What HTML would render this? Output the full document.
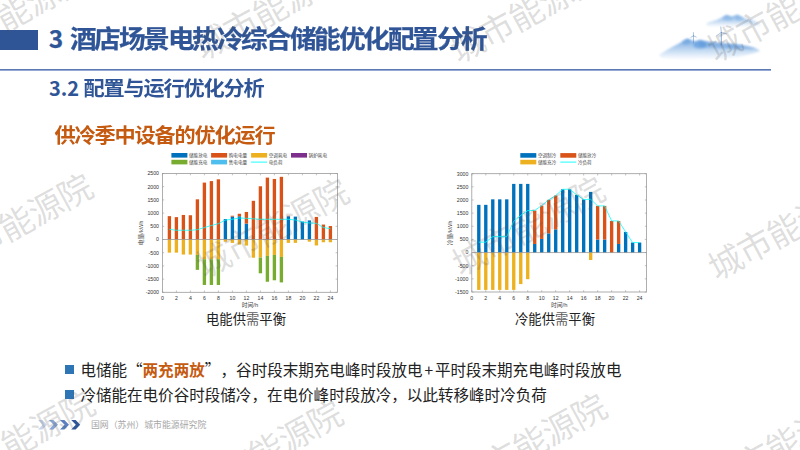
<!DOCTYPE html>
<html><head><meta charset="utf-8">
<style>
*{margin:0;padding:0;box-sizing:border-box}
html,body{width:800px;height:450px;overflow:hidden;background:#fff}
body{position:relative;font-family:"Liberation Sans","Noto Sans CJK SC",sans-serif}
.abs{position:absolute;white-space:nowrap}
#bar{left:0;top:30px;width:38px;height:20px;background:#2f5597}
#title{left:48.8px;top:20.8px;-webkit-text-stroke:0.25px #2f5597;font-size:24.44px;line-height:34px;font-weight:bold;color:#2f5597;font-family:"Noto Sans CJK SC",sans-serif}
#hline{left:0;top:69px;width:771px;height:2px;background:linear-gradient(#5c7ab2 0 50%,#93a9d3 50% 100%)}
#sub{left:49px;top:74px;font-size:20px;line-height:28px;font-weight:bold;color:#2f5597;font-family:"Noto Sans CJK SC",sans-serif}
#head{left:55px;top:120.5px;font-size:20px;line-height:28px;font-weight:bold;color:#c55a11;font-family:"Noto Sans CJK SC",sans-serif}
.bl{left:80.4px;font-size:15.56px;line-height:22px;color:#222;font-family:"Noto Sans CJK SC",sans-serif}
.bl b{color:#c55a11}
.fw{letter-spacing:8px}
.pl{letter-spacing:1.8px;padding-left:1.8px}
#title i,#sub i,#head i{font-style:normal;display:inline-block;transform:scaleX(1.09)}
#sub i,#head i{transform:scaleX(1.06)}
.sq{width:9px;height:9px;background:#2e75b6}
#foot{left:91px;top:418px;font-size:8.89px;line-height:14px;color:#a6a6a6;font-family:"Noto Sans CJK SC",sans-serif}
.ct{font-size:13.33px;line-height:18px;color:#222;font-family:"Noto Sans CJK SC",sans-serif}
svg text{font-family:"Liberation Sans","Noto Sans CJK SC",sans-serif}
.tk{font-size:5.2px;fill:#333}
.al{font-size:5.8px;fill:#444}
.lg{font-size:4.6px;fill:#444}
.wm{position:absolute;white-space:nowrap;font-family:"Noto Sans CJK SC",sans-serif;font-weight:400;font-size:34px;line-height:34px;letter-spacing:-0.6px;color:rgba(80,80,80,0.19);transform-origin:0 50%;transform:rotate(-28.5deg)}
</style></head><body>
<div class="abs" id="bar"></div>
<div class="abs" id="title">3<span style="letter-spacing:2.2px"> </span><i>酒</i><i>店</i><i>场</i><i>景</i><i>电</i><i>热</i><i>冷</i><i>综</i><i>合</i><i>储</i><i>能</i><i>优</i><i>化</i><i>配</i><i>置</i><i>分</i><i>析</i></div>
<div class="abs" id="hline"></div>
<div class="abs" id="sub">3.2 <i>配</i><i>置</i><i>与</i><i>运</i><i>行</i><i>优</i><i>化</i><i>分</i><i>析</i></div>
<div class="abs" id="head"><i>供</i><i>冷</i><i>季</i><i>中</i><i>设</i><i>备</i><i>的</i><i>优</i><i>化</i><i>运</i><i>行</i></div>
<svg class="abs" style="left:0;top:0" width="800" height="450" viewBox="0 0 800 450">
<rect x="167.72" y="216.14" width="3.35" height="23.36" fill="#D95319"/>
<rect x="167.72" y="239.5" width="3.35" height="13.15" fill="#EDB120"/>
<rect x="174.72" y="217.11" width="3.35" height="22.39" fill="#D95319"/>
<rect x="174.72" y="239.5" width="3.35" height="13.15" fill="#EDB120"/>
<rect x="181.72" y="214.95" width="3.35" height="24.55" fill="#D95319"/>
<rect x="181.72" y="239.5" width="3.35" height="15.05" fill="#EDB120"/>
<rect x="188.72" y="215.24" width="3.35" height="24.26" fill="#D95319"/>
<rect x="188.72" y="239.5" width="3.35" height="15.05" fill="#EDB120"/>
<rect x="195.72" y="199.32" width="3.35" height="40.18" fill="#D95319"/>
<rect x="195.72" y="239.5" width="3.35" height="15.44" fill="#EDB120"/>
<rect x="195.72" y="254.94" width="3.35" height="14.92" fill="#77AC30"/>
<rect x="202.72" y="182.61" width="3.35" height="56.89" fill="#D95319"/>
<rect x="202.72" y="239.5" width="3.35" height="19.72" fill="#EDB120"/>
<rect x="202.72" y="259.22" width="3.35" height="25.74" fill="#77AC30"/>
<rect x="209.72" y="181.1" width="3.35" height="58.4" fill="#D95319"/>
<rect x="209.72" y="239.5" width="3.35" height="19.72" fill="#EDB120"/>
<rect x="209.72" y="259.22" width="3.35" height="25.74" fill="#77AC30"/>
<rect x="216.72" y="179.31" width="3.35" height="60.19" fill="#D95319"/>
<rect x="216.72" y="239.5" width="3.35" height="19.72" fill="#EDB120"/>
<rect x="216.72" y="259.22" width="3.35" height="25.74" fill="#77AC30"/>
<rect x="223.72" y="219.12" width="3.35" height="20.38" fill="#0072BD"/>
<rect x="223.72" y="239.5" width="3.35" height="2.19" fill="#EDB120"/>
<rect x="230.72" y="216.61" width="3.35" height="22.89" fill="#0072BD"/>
<rect x="230.72" y="215.74" width="3.35" height="0.87" fill="#D95319"/>
<rect x="230.72" y="239.5" width="3.35" height="3.43" fill="#EDB120"/>
<rect x="237.72" y="216.27" width="3.35" height="23.23" fill="#0072BD"/>
<rect x="237.72" y="213.76" width="3.35" height="2.51" fill="#D95319"/>
<rect x="237.72" y="239.5" width="3.35" height="5.02" fill="#EDB120"/>
<rect x="244.72" y="223.58" width="3.35" height="15.92" fill="#0072BD"/>
<rect x="244.72" y="211.94" width="3.35" height="11.64" fill="#D95319"/>
<rect x="244.72" y="239.5" width="3.35" height="6.07" fill="#EDB120"/>
<rect x="251.72" y="200.8" width="3.35" height="38.7" fill="#D95319"/>
<rect x="251.72" y="239.5" width="3.35" height="18.22" fill="#EDB120"/>
<rect x="258.72" y="186.28" width="3.35" height="53.22" fill="#D95319"/>
<rect x="258.72" y="239.5" width="3.35" height="18.08" fill="#EDB120"/>
<rect x="258.72" y="257.58" width="3.35" height="15.71" fill="#77AC30"/>
<rect x="265.72" y="177.62" width="3.35" height="61.88" fill="#D95319"/>
<rect x="265.72" y="239.5" width="3.35" height="16.37" fill="#EDB120"/>
<rect x="265.72" y="255.87" width="3.35" height="25.87" fill="#77AC30"/>
<rect x="272.72" y="178.94" width="3.35" height="60.56" fill="#D95319"/>
<rect x="272.72" y="239.5" width="3.35" height="15.44" fill="#EDB120"/>
<rect x="272.72" y="254.94" width="3.35" height="25.34" fill="#77AC30"/>
<rect x="279.72" y="176.83" width="3.35" height="62.67" fill="#D95319"/>
<rect x="279.72" y="239.5" width="3.35" height="17.42" fill="#EDB120"/>
<rect x="279.72" y="256.92" width="3.35" height="25.48" fill="#77AC30"/>
<rect x="286.72" y="216.27" width="3.35" height="23.23" fill="#0072BD"/>
<rect x="286.72" y="215.74" width="3.35" height="0.53" fill="#D95319"/>
<rect x="286.72" y="239.5" width="3.35" height="3.38" fill="#EDB120"/>
<rect x="293.72" y="216.61" width="3.35" height="22.89" fill="#0072BD"/>
<rect x="293.72" y="239.5" width="3.35" height="3.38" fill="#EDB120"/>
<rect x="300.72" y="221.55" width="3.35" height="17.95" fill="#0072BD"/>
<rect x="307.72" y="220.39" width="3.35" height="19.11" fill="#0072BD"/>
<rect x="307.72" y="239.5" width="3.35" height="2.19" fill="#EDB120"/>
<rect x="314.72" y="216.93" width="3.35" height="22.57" fill="#D95319"/>
<rect x="314.72" y="239.5" width="3.35" height="5.97" fill="#EDB120"/>
<rect x="321.72" y="224.56" width="3.35" height="14.94" fill="#D95319"/>
<rect x="321.72" y="239.5" width="3.35" height="2.77" fill="#EDB120"/>
<rect x="328.72" y="226.04" width="3.35" height="13.46" fill="#D95319"/>
<rect x="328.72" y="239.5" width="3.35" height="2.77" fill="#EDB120"/>
<line x1="162.4" x2="337.4" y1="239.5" y2="239.5" stroke="#8a8a8a" stroke-width="0.7"/>
<polyline points="169.4,229.36 176.4,230.26 183.4,230.26 190.4,230.26 197.4,229.71 204.4,227.51 211.4,225.51 218.4,223.66 225.4,220.1 232.4,219.22 239.4,218.01 246.4,218.33 253.4,218.83 260.4,219.3 267.4,219.3 274.4,219.3 281.4,219.3 288.4,219.3 295.4,220.02 302.4,222.02 309.4,223.03 316.4,223.32 323.4,227.51 330.4,228.7" fill="none" stroke="#00FFFF" stroke-width="0.9" stroke-opacity="0.85"/>
<rect x="162.4" y="173.5" width="175" height="118.8" fill="none" stroke="#9a9a9a" stroke-width="0.8"/>
<line x1="162.4" x2="162.4" y1="292.3" y2="290.5" stroke="#9a9a9a" stroke-width="0.6"/>
<line x1="162.4" x2="162.4" y1="173.5" y2="175.3" stroke="#9a9a9a" stroke-width="0.6"/>
<text x="162.4" y="300.1" text-anchor="middle" class="tk">0</text>
<line x1="176.4" x2="176.4" y1="292.3" y2="290.5" stroke="#9a9a9a" stroke-width="0.6"/>
<line x1="176.4" x2="176.4" y1="173.5" y2="175.3" stroke="#9a9a9a" stroke-width="0.6"/>
<text x="176.4" y="300.1" text-anchor="middle" class="tk">2</text>
<line x1="190.4" x2="190.4" y1="292.3" y2="290.5" stroke="#9a9a9a" stroke-width="0.6"/>
<line x1="190.4" x2="190.4" y1="173.5" y2="175.3" stroke="#9a9a9a" stroke-width="0.6"/>
<text x="190.4" y="300.1" text-anchor="middle" class="tk">4</text>
<line x1="204.4" x2="204.4" y1="292.3" y2="290.5" stroke="#9a9a9a" stroke-width="0.6"/>
<line x1="204.4" x2="204.4" y1="173.5" y2="175.3" stroke="#9a9a9a" stroke-width="0.6"/>
<text x="204.4" y="300.1" text-anchor="middle" class="tk">6</text>
<line x1="218.4" x2="218.4" y1="292.3" y2="290.5" stroke="#9a9a9a" stroke-width="0.6"/>
<line x1="218.4" x2="218.4" y1="173.5" y2="175.3" stroke="#9a9a9a" stroke-width="0.6"/>
<text x="218.4" y="300.1" text-anchor="middle" class="tk">8</text>
<line x1="232.4" x2="232.4" y1="292.3" y2="290.5" stroke="#9a9a9a" stroke-width="0.6"/>
<line x1="232.4" x2="232.4" y1="173.5" y2="175.3" stroke="#9a9a9a" stroke-width="0.6"/>
<text x="232.4" y="300.1" text-anchor="middle" class="tk">10</text>
<line x1="246.4" x2="246.4" y1="292.3" y2="290.5" stroke="#9a9a9a" stroke-width="0.6"/>
<line x1="246.4" x2="246.4" y1="173.5" y2="175.3" stroke="#9a9a9a" stroke-width="0.6"/>
<text x="246.4" y="300.1" text-anchor="middle" class="tk">12</text>
<line x1="260.4" x2="260.4" y1="292.3" y2="290.5" stroke="#9a9a9a" stroke-width="0.6"/>
<line x1="260.4" x2="260.4" y1="173.5" y2="175.3" stroke="#9a9a9a" stroke-width="0.6"/>
<text x="260.4" y="300.1" text-anchor="middle" class="tk">14</text>
<line x1="274.4" x2="274.4" y1="292.3" y2="290.5" stroke="#9a9a9a" stroke-width="0.6"/>
<line x1="274.4" x2="274.4" y1="173.5" y2="175.3" stroke="#9a9a9a" stroke-width="0.6"/>
<text x="274.4" y="300.1" text-anchor="middle" class="tk">16</text>
<line x1="288.4" x2="288.4" y1="292.3" y2="290.5" stroke="#9a9a9a" stroke-width="0.6"/>
<line x1="288.4" x2="288.4" y1="173.5" y2="175.3" stroke="#9a9a9a" stroke-width="0.6"/>
<text x="288.4" y="300.1" text-anchor="middle" class="tk">18</text>
<line x1="302.4" x2="302.4" y1="292.3" y2="290.5" stroke="#9a9a9a" stroke-width="0.6"/>
<line x1="302.4" x2="302.4" y1="173.5" y2="175.3" stroke="#9a9a9a" stroke-width="0.6"/>
<text x="302.4" y="300.1" text-anchor="middle" class="tk">20</text>
<line x1="316.4" x2="316.4" y1="292.3" y2="290.5" stroke="#9a9a9a" stroke-width="0.6"/>
<line x1="316.4" x2="316.4" y1="173.5" y2="175.3" stroke="#9a9a9a" stroke-width="0.6"/>
<text x="316.4" y="300.1" text-anchor="middle" class="tk">22</text>
<line x1="330.4" x2="330.4" y1="292.3" y2="290.5" stroke="#9a9a9a" stroke-width="0.6"/>
<line x1="330.4" x2="330.4" y1="173.5" y2="175.3" stroke="#9a9a9a" stroke-width="0.6"/>
<text x="330.4" y="300.1" text-anchor="middle" class="tk">24</text>
<line x1="162.4" x2="164.2" y1="292.3" y2="292.3" stroke="#9a9a9a" stroke-width="0.6"/>
<line x1="337.4" x2="335.6" y1="292.3" y2="292.3" stroke="#9a9a9a" stroke-width="0.6"/>
<text x="159" y="294.1" text-anchor="end" class="tk">-2000</text>
<line x1="162.4" x2="164.2" y1="279.1" y2="279.1" stroke="#9a9a9a" stroke-width="0.6"/>
<line x1="337.4" x2="335.6" y1="279.1" y2="279.1" stroke="#9a9a9a" stroke-width="0.6"/>
<text x="159" y="280.9" text-anchor="end" class="tk">-1500</text>
<line x1="162.4" x2="164.2" y1="265.9" y2="265.9" stroke="#9a9a9a" stroke-width="0.6"/>
<line x1="337.4" x2="335.6" y1="265.9" y2="265.9" stroke="#9a9a9a" stroke-width="0.6"/>
<text x="159" y="267.7" text-anchor="end" class="tk">-1000</text>
<line x1="162.4" x2="164.2" y1="252.7" y2="252.7" stroke="#9a9a9a" stroke-width="0.6"/>
<line x1="337.4" x2="335.6" y1="252.7" y2="252.7" stroke="#9a9a9a" stroke-width="0.6"/>
<text x="159" y="254.5" text-anchor="end" class="tk">-500</text>
<line x1="162.4" x2="164.2" y1="239.5" y2="239.5" stroke="#9a9a9a" stroke-width="0.6"/>
<line x1="337.4" x2="335.6" y1="239.5" y2="239.5" stroke="#9a9a9a" stroke-width="0.6"/>
<text x="159" y="241.3" text-anchor="end" class="tk">0</text>
<line x1="162.4" x2="164.2" y1="226.3" y2="226.3" stroke="#9a9a9a" stroke-width="0.6"/>
<line x1="337.4" x2="335.6" y1="226.3" y2="226.3" stroke="#9a9a9a" stroke-width="0.6"/>
<text x="159" y="228.1" text-anchor="end" class="tk">500</text>
<line x1="162.4" x2="164.2" y1="213.1" y2="213.1" stroke="#9a9a9a" stroke-width="0.6"/>
<line x1="337.4" x2="335.6" y1="213.1" y2="213.1" stroke="#9a9a9a" stroke-width="0.6"/>
<text x="159" y="214.9" text-anchor="end" class="tk">1000</text>
<line x1="162.4" x2="164.2" y1="199.9" y2="199.9" stroke="#9a9a9a" stroke-width="0.6"/>
<line x1="337.4" x2="335.6" y1="199.9" y2="199.9" stroke="#9a9a9a" stroke-width="0.6"/>
<text x="159" y="201.7" text-anchor="end" class="tk">1500</text>
<line x1="162.4" x2="164.2" y1="186.7" y2="186.7" stroke="#9a9a9a" stroke-width="0.6"/>
<line x1="337.4" x2="335.6" y1="186.7" y2="186.7" stroke="#9a9a9a" stroke-width="0.6"/>
<text x="159" y="188.5" text-anchor="end" class="tk">2000</text>
<line x1="162.4" x2="164.2" y1="173.5" y2="173.5" stroke="#9a9a9a" stroke-width="0.6"/>
<line x1="337.4" x2="335.6" y1="173.5" y2="173.5" stroke="#9a9a9a" stroke-width="0.6"/>
<text x="159" y="175.3" text-anchor="end" class="tk">2500</text>
<text x="249.9" y="307.1" text-anchor="middle" class="al">时间/h</text>
<text transform="translate(143.2,232.9) rotate(-90)" text-anchor="middle" class="al">电量/kWh</text>
<rect x="171.4" y="153" width="16" height="4.6" fill="#0072BD"/>
<text x="189" y="157.2" class="lg">储能放电</text>
<rect x="211.1" y="153" width="16" height="4.6" fill="#D95319"/>
<text x="228.7" y="157.2" class="lg">购电电量</text>
<rect x="251.1" y="153" width="16" height="4.6" fill="#EDB120"/>
<text x="268.7" y="157.2" class="lg">空调耗电</text>
<rect x="291" y="153" width="16" height="4.6" fill="#7E2F8E"/>
<text x="308.6" y="157.2" class="lg">锅炉耗电</text>
<rect x="171.4" y="159.8" width="16" height="4.6" fill="#77AC30"/>
<text x="189" y="164" class="lg">储能充电</text>
<rect x="211.1" y="159.8" width="16" height="4.6" fill="#4DBEEE"/>
<text x="228.7" y="164" class="lg">售电电量</text>
<line x1="251.1" x2="267.1" y1="162.1" y2="162.1" stroke="#00FFFF" stroke-width="0.9"/>
<text x="268.7" y="164" class="lg">电负荷</text>
<rect x="477.12" y="204.85" width="3.35" height="47.71" fill="#0072BD"/>
<rect x="477.12" y="252.57" width="3.35" height="37.33" fill="#EDB120"/>
<rect x="484.11" y="204.85" width="3.35" height="47.71" fill="#0072BD"/>
<rect x="484.11" y="252.57" width="3.35" height="37.33" fill="#EDB120"/>
<rect x="491.1" y="199.33" width="3.35" height="53.24" fill="#0072BD"/>
<rect x="491.1" y="252.57" width="3.35" height="37.33" fill="#EDB120"/>
<rect x="498.09" y="199.33" width="3.35" height="53.24" fill="#0072BD"/>
<rect x="498.09" y="252.57" width="3.35" height="37.33" fill="#EDB120"/>
<rect x="505.08" y="199.33" width="3.35" height="53.24" fill="#0072BD"/>
<rect x="505.08" y="252.57" width="3.35" height="37.33" fill="#EDB120"/>
<rect x="512.08" y="183.9" width="3.35" height="68.67" fill="#0072BD"/>
<rect x="512.08" y="252.57" width="3.35" height="37.33" fill="#EDB120"/>
<rect x="519.07" y="183.9" width="3.35" height="68.67" fill="#0072BD"/>
<rect x="519.07" y="252.57" width="3.35" height="31.55" fill="#EDB120"/>
<rect x="526.06" y="183.9" width="3.35" height="68.67" fill="#0072BD"/>
<rect x="526.06" y="252.57" width="3.35" height="26.63" fill="#EDB120"/>
<rect x="533.05" y="243.97" width="3.35" height="8.6" fill="#0072BD"/>
<rect x="533.05" y="210.5" width="3.35" height="33.47" fill="#D95319"/>
<rect x="540.05" y="238.95" width="3.35" height="13.62" fill="#0072BD"/>
<rect x="540.05" y="205.51" width="3.35" height="33.44" fill="#D95319"/>
<rect x="547.04" y="233.35" width="3.35" height="19.22" fill="#0072BD"/>
<rect x="547.04" y="199.91" width="3.35" height="33.44" fill="#D95319"/>
<rect x="554.03" y="229.35" width="3.35" height="23.21" fill="#0072BD"/>
<rect x="554.03" y="195.52" width="3.35" height="33.83" fill="#D95319"/>
<rect x="561.02" y="189.29" width="3.35" height="63.28" fill="#0072BD"/>
<rect x="568.01" y="189.29" width="3.35" height="63.28" fill="#0072BD"/>
<rect x="575.01" y="194.92" width="3.35" height="57.65" fill="#0072BD"/>
<rect x="582" y="199.52" width="3.35" height="53.05" fill="#0072BD"/>
<rect x="588.99" y="191.89" width="3.35" height="60.67" fill="#0072BD"/>
<rect x="588.99" y="252.57" width="3.35" height="7.41" fill="#EDB120"/>
<rect x="595.98" y="239.55" width="3.35" height="13.01" fill="#0072BD"/>
<rect x="595.98" y="205.9" width="3.35" height="33.65" fill="#D95319"/>
<rect x="602.97" y="239.55" width="3.35" height="13.01" fill="#0072BD"/>
<rect x="602.97" y="205.9" width="3.35" height="33.65" fill="#D95319"/>
<rect x="609.97" y="220.94" width="3.35" height="31.63" fill="#D95319"/>
<rect x="616.96" y="243.97" width="3.35" height="8.6" fill="#0072BD"/>
<rect x="616.96" y="220.94" width="3.35" height="23.03" fill="#D95319"/>
<rect x="623.95" y="231.93" width="3.35" height="20.64" fill="#0072BD"/>
<rect x="630.94" y="242.55" width="3.35" height="10.02" fill="#0072BD"/>
<rect x="637.93" y="242.55" width="3.35" height="10.02" fill="#0072BD"/>
<line x1="471.8" x2="646.6" y1="252.57" y2="252.57" stroke="#8a8a8a" stroke-width="0.7"/>
<polyline points="478.79,242.18 485.78,242.18 492.78,236.66 499.77,236.66 506.76,236.66 513.75,221.23 520.74,215.45 527.74,210.53 534.73,210.5 541.72,205.51 548.71,199.91 555.7,195.52 562.7,189.29 569.69,189.29 576.68,194.92 583.67,199.52 590.66,199.31 597.66,205.9 604.65,205.9 611.64,220.94 618.63,220.94 625.62,231.93 632.62,242.55 639.61,242.55" fill="none" stroke="#00FFFF" stroke-width="0.9" stroke-opacity="0.85"/>
<rect x="471.8" y="173.7" width="174.8" height="118.3" fill="none" stroke="#9a9a9a" stroke-width="0.8"/>
<line x1="471.8" x2="471.8" y1="292" y2="290.2" stroke="#9a9a9a" stroke-width="0.6"/>
<line x1="471.8" x2="471.8" y1="173.7" y2="175.5" stroke="#9a9a9a" stroke-width="0.6"/>
<text x="471.8" y="299.8" text-anchor="middle" class="tk">0</text>
<line x1="485.78" x2="485.78" y1="292" y2="290.2" stroke="#9a9a9a" stroke-width="0.6"/>
<line x1="485.78" x2="485.78" y1="173.7" y2="175.5" stroke="#9a9a9a" stroke-width="0.6"/>
<text x="485.78" y="299.8" text-anchor="middle" class="tk">2</text>
<line x1="499.77" x2="499.77" y1="292" y2="290.2" stroke="#9a9a9a" stroke-width="0.6"/>
<line x1="499.77" x2="499.77" y1="173.7" y2="175.5" stroke="#9a9a9a" stroke-width="0.6"/>
<text x="499.77" y="299.8" text-anchor="middle" class="tk">4</text>
<line x1="513.75" x2="513.75" y1="292" y2="290.2" stroke="#9a9a9a" stroke-width="0.6"/>
<line x1="513.75" x2="513.75" y1="173.7" y2="175.5" stroke="#9a9a9a" stroke-width="0.6"/>
<text x="513.75" y="299.8" text-anchor="middle" class="tk">6</text>
<line x1="527.74" x2="527.74" y1="292" y2="290.2" stroke="#9a9a9a" stroke-width="0.6"/>
<line x1="527.74" x2="527.74" y1="173.7" y2="175.5" stroke="#9a9a9a" stroke-width="0.6"/>
<text x="527.74" y="299.8" text-anchor="middle" class="tk">8</text>
<line x1="541.72" x2="541.72" y1="292" y2="290.2" stroke="#9a9a9a" stroke-width="0.6"/>
<line x1="541.72" x2="541.72" y1="173.7" y2="175.5" stroke="#9a9a9a" stroke-width="0.6"/>
<text x="541.72" y="299.8" text-anchor="middle" class="tk">10</text>
<line x1="555.7" x2="555.7" y1="292" y2="290.2" stroke="#9a9a9a" stroke-width="0.6"/>
<line x1="555.7" x2="555.7" y1="173.7" y2="175.5" stroke="#9a9a9a" stroke-width="0.6"/>
<text x="555.7" y="299.8" text-anchor="middle" class="tk">12</text>
<line x1="569.69" x2="569.69" y1="292" y2="290.2" stroke="#9a9a9a" stroke-width="0.6"/>
<line x1="569.69" x2="569.69" y1="173.7" y2="175.5" stroke="#9a9a9a" stroke-width="0.6"/>
<text x="569.69" y="299.8" text-anchor="middle" class="tk">14</text>
<line x1="583.67" x2="583.67" y1="292" y2="290.2" stroke="#9a9a9a" stroke-width="0.6"/>
<line x1="583.67" x2="583.67" y1="173.7" y2="175.5" stroke="#9a9a9a" stroke-width="0.6"/>
<text x="583.67" y="299.8" text-anchor="middle" class="tk">16</text>
<line x1="597.66" x2="597.66" y1="292" y2="290.2" stroke="#9a9a9a" stroke-width="0.6"/>
<line x1="597.66" x2="597.66" y1="173.7" y2="175.5" stroke="#9a9a9a" stroke-width="0.6"/>
<text x="597.66" y="299.8" text-anchor="middle" class="tk">18</text>
<line x1="611.64" x2="611.64" y1="292" y2="290.2" stroke="#9a9a9a" stroke-width="0.6"/>
<line x1="611.64" x2="611.64" y1="173.7" y2="175.5" stroke="#9a9a9a" stroke-width="0.6"/>
<text x="611.64" y="299.8" text-anchor="middle" class="tk">20</text>
<line x1="625.62" x2="625.62" y1="292" y2="290.2" stroke="#9a9a9a" stroke-width="0.6"/>
<line x1="625.62" x2="625.62" y1="173.7" y2="175.5" stroke="#9a9a9a" stroke-width="0.6"/>
<text x="625.62" y="299.8" text-anchor="middle" class="tk">22</text>
<line x1="639.61" x2="639.61" y1="292" y2="290.2" stroke="#9a9a9a" stroke-width="0.6"/>
<line x1="639.61" x2="639.61" y1="173.7" y2="175.5" stroke="#9a9a9a" stroke-width="0.6"/>
<text x="639.61" y="299.8" text-anchor="middle" class="tk">24</text>
<line x1="471.8" x2="473.6" y1="292" y2="292" stroke="#9a9a9a" stroke-width="0.6"/>
<line x1="646.6" x2="644.8" y1="292" y2="292" stroke="#9a9a9a" stroke-width="0.6"/>
<text x="468.4" y="293.8" text-anchor="end" class="tk">-1500</text>
<line x1="471.8" x2="473.6" y1="278.86" y2="278.86" stroke="#9a9a9a" stroke-width="0.6"/>
<line x1="646.6" x2="644.8" y1="278.86" y2="278.86" stroke="#9a9a9a" stroke-width="0.6"/>
<text x="468.4" y="280.66" text-anchor="end" class="tk">-1000</text>
<line x1="471.8" x2="473.6" y1="265.71" y2="265.71" stroke="#9a9a9a" stroke-width="0.6"/>
<line x1="646.6" x2="644.8" y1="265.71" y2="265.71" stroke="#9a9a9a" stroke-width="0.6"/>
<text x="468.4" y="267.51" text-anchor="end" class="tk">-500</text>
<line x1="471.8" x2="473.6" y1="252.57" y2="252.57" stroke="#9a9a9a" stroke-width="0.6"/>
<line x1="646.6" x2="644.8" y1="252.57" y2="252.57" stroke="#9a9a9a" stroke-width="0.6"/>
<text x="468.4" y="254.37" text-anchor="end" class="tk">0</text>
<line x1="471.8" x2="473.6" y1="239.42" y2="239.42" stroke="#9a9a9a" stroke-width="0.6"/>
<line x1="646.6" x2="644.8" y1="239.42" y2="239.42" stroke="#9a9a9a" stroke-width="0.6"/>
<text x="468.4" y="241.22" text-anchor="end" class="tk">500</text>
<line x1="471.8" x2="473.6" y1="226.28" y2="226.28" stroke="#9a9a9a" stroke-width="0.6"/>
<line x1="646.6" x2="644.8" y1="226.28" y2="226.28" stroke="#9a9a9a" stroke-width="0.6"/>
<text x="468.4" y="228.08" text-anchor="end" class="tk">1000</text>
<line x1="471.8" x2="473.6" y1="213.13" y2="213.13" stroke="#9a9a9a" stroke-width="0.6"/>
<line x1="646.6" x2="644.8" y1="213.13" y2="213.13" stroke="#9a9a9a" stroke-width="0.6"/>
<text x="468.4" y="214.93" text-anchor="end" class="tk">1500</text>
<line x1="471.8" x2="473.6" y1="199.99" y2="199.99" stroke="#9a9a9a" stroke-width="0.6"/>
<line x1="646.6" x2="644.8" y1="199.99" y2="199.99" stroke="#9a9a9a" stroke-width="0.6"/>
<text x="468.4" y="201.79" text-anchor="end" class="tk">2000</text>
<line x1="471.8" x2="473.6" y1="186.84" y2="186.84" stroke="#9a9a9a" stroke-width="0.6"/>
<line x1="646.6" x2="644.8" y1="186.84" y2="186.84" stroke="#9a9a9a" stroke-width="0.6"/>
<text x="468.4" y="188.64" text-anchor="end" class="tk">2500</text>
<line x1="471.8" x2="473.6" y1="173.7" y2="173.7" stroke="#9a9a9a" stroke-width="0.6"/>
<line x1="646.6" x2="644.8" y1="173.7" y2="173.7" stroke="#9a9a9a" stroke-width="0.6"/>
<text x="468.4" y="175.5" text-anchor="end" class="tk">3000</text>
<text x="559.2" y="306.8" text-anchor="middle" class="al">时间/h</text>
<text transform="translate(452.3,232.85) rotate(-90)" text-anchor="middle" class="al">冷量/kWh</text>
<rect x="520.3" y="153.1" width="16" height="4.6" fill="#0072BD"/>
<text x="537.9" y="157.3" class="lg">空调制冷</text>
<rect x="560.3" y="153.1" width="16" height="4.6" fill="#D95319"/>
<text x="577.9" y="157.3" class="lg">储能放冷</text>
<rect x="520.3" y="159.8" width="16" height="4.6" fill="#EDB120"/>
<text x="537.9" y="164" class="lg">储能充冷</text>
<line x1="560.3" x2="576.3" y1="162.1" y2="162.1" stroke="#00FFFF" stroke-width="0.9"/>
<text x="577.9" y="164" class="lg">冷负荷</text>
</svg>
<div class="abs ct" style="left:206px;top:310px">电能供<span style="color:#5e5e5e">需</span>平衡</div>
<div class="abs ct" style="left:515px;top:310px">冷能供<span style="color:#5e5e5e">需</span>平衡</div>
<div class="abs sq" style="left:65.3px;top:365px"></div>
<div class="abs bl" style="top:358px">电储能“<b>两充两放</b><span class="fw">”</span>，谷时段末期充电峰时段放电<span class="pl">+</span>平时段末期充电峰时段放电</div>
<div class="abs sq" style="left:65.3px;top:389.8px"></div>
<div class="abs bl" style="top:382.8px">冷储能在电价谷时段储冷，在电价峰时段放冷，以此转移峰时冷负荷</div>
<svg class="abs" style="left:37.6px;top:419.6px" width="44" height="10" viewBox="0 0 44 10">
<path d="M0 0h4.4l4.6 4.7-4.6 4.7h-4.4l4.6-4.7z" fill="#c9d6ec"/>
<path d="M11 0h4.4l4.6 4.7-4.6 4.7h-4.4l4.6-4.7z" fill="#8aa5d4"/>
<path d="M22 0h4.4l4.6 4.7-4.6 4.7h-4.4l4.6-4.7z" fill="#5b7fc0"/>
<path d="M33.2 0h4.4l4.6 4.7-4.6 4.7h-4.4l4.6-4.7z" fill="#2f5597"/>
</svg>
<div class="abs" id="foot">国网（苏州）城市能源研究院</div>
<svg class="abs" style="left:640px;top:0" width="130" height="70" viewBox="640 0 130 70">
<defs>
<filter id="bl1" x="-30%" y="-50%" width="160%" height="200%"><feGaussianBlur stdDeviation="1.3"/></filter>
<filter id="bl2" x="-30%" y="-50%" width="160%" height="200%"><feGaussianBlur stdDeviation="0.8"/></filter>
<filter id="bl3" x="-30%" y="-50%" width="160%" height="200%"><feGaussianBlur stdDeviation="2"/></filter>
<linearGradient id="mg" x1="0" y1="38" x2="0" y2="60" gradientUnits="userSpaceOnUse"><stop offset="0" stop-color="#6fa3de"/><stop offset="0.3" stop-color="#9cc1ea"/><stop offset="0.7" stop-color="#d8e7f7"/><stop offset="1" stop-color="#ffffff"/></linearGradient>
<linearGradient id="cg" x1="0" y1="14" x2="0" y2="27" gradientUnits="userSpaceOnUse"><stop offset="0" stop-color="#7fb0e4"/><stop offset="0.45" stop-color="#b5d1f0"/><stop offset="1" stop-color="#ffffff"/></linearGradient>
</defs>
<path d="M706,24 L708,22.5 L713,21 L717,19.8 L721,18 L724,16 L726.5,14.8 L729,15.6 L731,16.8 L734,15.8 L737.5,14.6 L740,16 L743,17.6 L747,19 L752,20 L756,21.5 L760,24 L761,26.5 C745,28 725,28 708,27.5 Z" fill="url(#cg)" filter="url(#bl2)"/>
<path d="M659,55 L666,50.5 L673,46.5 L678,44 L682.5,41.5 L685.5,39.5 L687.3,38.6 L690,39.6 L693,40.8 L696,41.3 L698,40.3 L700.4,39.8 L703,40.6 L706,41.6 L710,42 L715,42.6 L720,43 L726.5,43.4 L732,44 L737.5,44.8 L743,45.6 L748.5,46.4 L753,47.6 L758,49.2 L760,51 C750,55 735,58 715,59.5 L680,60 L662,58 Z" fill="url(#mg)" filter="url(#bl2)"/>
<path d="M700,41 L706,41.6 L710,42 L715,42.6 L720,43 L726.5,43.4 L732,44 L737.5,44.8 L743,45.6 L748.5,46.4 L753,47.6 L757,49 C745,49.5 725,48.5 700,47 Z" fill="#6b9fdc" opacity="0.45" filter="url(#bl2)"/>
<ellipse cx="700" cy="45" rx="6.5" ry="3.6" fill="#3f88d6" opacity="0.45" filter="url(#bl1)"/>
<ellipse cx="686" cy="42" rx="4" ry="2.6" fill="#5c98db" opacity="0.35" filter="url(#bl1)"/>
<ellipse cx="735" cy="46.5" rx="9" ry="2.2" fill="#5c98db" opacity="0.25" filter="url(#bl1)"/>
<ellipse cx="728" cy="18.5" rx="5" ry="2.5" fill="#5a98dc" opacity="0.25" filter="url(#bl1)"/>
<ellipse cx="739" cy="18.5" rx="4" ry="2.3" fill="#5a98dc" opacity="0.25" filter="url(#bl1)"/>
<g stroke="#5584c2" stroke-width="0.55" fill="none" stroke-linecap="round" opacity="0.9">
<path d="M693.5,43 V35.8 M693.5,35.8 L693.4,32.6 M693.5,35.8 L691,37.2 M693.5,35.8 L696.2,37"/>
<path d="M721.3,45 V32.5" stroke-width="0.8"/>
<path d="M721.3,32.5 L720.8,27 M721.3,32.5 L716.2,36 M721.3,32.5 L726.5,33.9"/>
</g>
</svg>

<div class="wm" style="left:-61.1px;top:35.1px">城市能源院</div>
<div class="wm" style="left:196.4px;top:32.1px">城市能源院</div>
<div class="wm" style="left:452.4px;top:34.6px">城市能源院</div>
<div class="wm" style="left:709.4px;top:33.6px">城市能源院</div>
<div class="wm" style="left:-58.1px;top:245.1px">城市能源院</div>
<div class="wm" style="left:197.9px;top:250.1px">城市能源院</div>
<div class="wm" style="left:453.9px;top:247.6px">城市能源院</div>
<div class="wm" style="left:709.9px;top:252.3px">城市能源院</div>
<div class="wm" style="left:-56.1px;top:462.1px">城市能源院</div>
<div class="wm" style="left:192.4px;top:471.9px">城市能源院</div>
<div class="wm" style="left:455.9px;top:464.6px">城市能源院</div>
<div class="wm" style="left:708.9px;top:466.1px">城市能源院</div>
</body></html>
